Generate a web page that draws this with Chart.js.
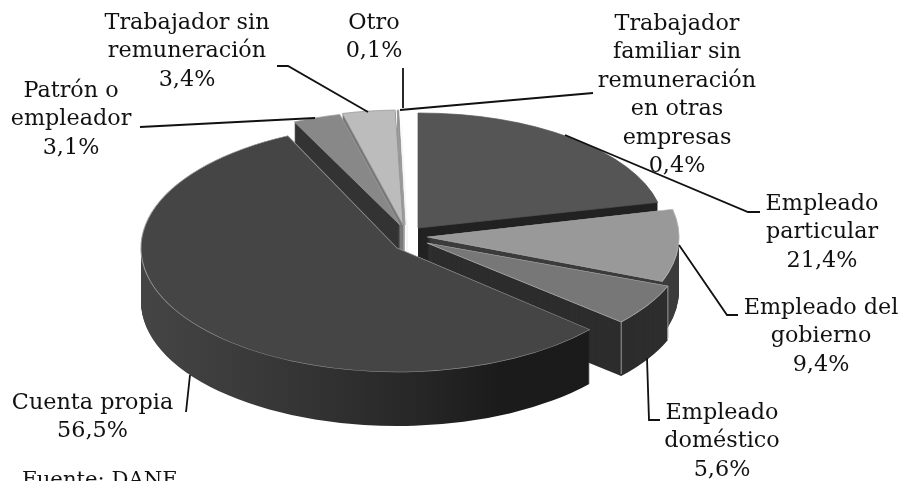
<!DOCTYPE html>
<html>
<head>
<meta charset="utf-8">
<style>
  html, body { margin: 0; background: #fff; overflow: hidden; }
</style>
<script src="https://cdn.jsdelivr.net/npm/chart.js@4"></script>
</head>
<body>
<canvas id="pie3d" width="901" height="481"></canvas>
<script>
const categories = ["Empleado particular", "Empleado del gobierno", "Empleado doméstico", "Cuenta propia", "Patrón o empleador", "Trabajador sin remuneración", "Otro", "Trabajador familiar sin remuneración en otras empresas"];
const shares = [21.4, 9.4, 5.6, 56.5, 3.1, 3.4, 0.1, 0.4];
const labelLines = [
  ["Empleado", "particular"],
  ["Empleado del", "gobierno"],
  ["Empleado", "doméstico"],
  ["Cuenta propia"],
  ["Patrón o", "empleador"],
  ["Trabajador sin", "remuneración"],
  ["Otro"],
  ["Trabajador", "familiar sin", "remuneración", "en otras", "empresas"]
];

const topColors = ["#555555", "#999999", "#777777", "#454545", "#888888", "#bcbcbc", "#8a8a8a", "#ffffff"];
const wallColors = ["#222222", "#3c3c3c", "#2d2d2d", "#3a3a3a", "#333333", "#777777", "#999999", "#f6f6f6"];
const edgeColors = ["#555555", "#b5b5b5", "#b5b5b5", "#9a9a9a", "#a0a0a0", "#999999", "#a0a0a0", "#ffffff"];
const drawOrder = [0, 7, 6, 5, 4, 1, 2, 3];

// each slice sits on its own ellipse (centre x, centre y, rx, ry), the fake 3d perspective
const faces = [
  [418, 228, 246, 115],
  [427, 237, 252, 124],
  [427, 243, 258, 120],
  [397, 248, 256, 124],
  [400, 225, 248, 114],
  [403, 225, 250, 115],
  [405, 225, 250, 115],
  [408, 225, 250, 115]
];
const depth = 54;

// label block centre x, first line y; leader polyline
const labelPos = [[822, 204], [821, 308], [722, 413], [92.5, 403], [71, 91], [187, 23], [374, 23], [677, 24]];
const leaders = [
  [[565, 135], [748, 212], [760, 212]],
  [[679, 245], [727, 315], [738, 315]],
  [[647, 358], [649, 420], [660, 420]],
  [[190, 375], [186, 412]],
  [[140, 127], [315, 118]],
  [[277, 66], [288, 66], [368, 112]],
  [[403, 68], [403, 108]],
  [[400, 110], [593, 93]]
];
const lineGap = 28.5;

const pie3d = {
  id: "pie3d",
  beforeDatasetDraw(chart) {
    const ctx = chart.ctx;
    const arcs = chart.getDatasetMeta(0).data;
    drawOrder.forEach((i) => {
      const arc = arcs[i];
      const [cx, cy, rx, ry] = faces[i];
      const place = (lift) => {
        ctx.setTransform(1, 0, 0, 1, 0, 0);
        ctx.translate(cx, cy + lift);
        ctx.scale(rx / arc.outerRadius, ry / arc.outerRadius);
        ctx.translate(-arc.x, -arc.y);
      };
      const face = arc.options;
      let wall = wallColors[i];
      if (i === 3) {
        wall = ctx.createLinearGradient(arc.x - arc.outerRadius, 0, arc.x + arc.outerRadius, 0);
        wall.addColorStop(0, "#454545");
        wall.addColorStop(0.25, "#383838");
        wall.addColorStop(0.55, "#262626");
        wall.addColorStop(0.7, "#1b1b1b");
        wall.addColorStop(1, "#1a1a1a");
      }
      ctx.save();
      arc.options = { ...face, backgroundColor: wall, borderWidth: 0 };
      for (let lift = depth; lift > 0; lift--) {
        place(lift);
        arc.draw(ctx);
      }
      arc.options = face;
      place(0);
      arc.draw(ctx);
      ctx.restore();
    });
    // pale vertical seams on the wall corners
    ctx.save();
    ctx.strokeStyle = "#9a9a9a";
    ctx.lineWidth = 1;
    [[2, arcs[2].startAngle], [2, arcs[2].endAngle]].forEach(([i, a]) => {
      const [cx, cy, rx, ry] = faces[i];
      const x = cx + rx * Math.cos(a);
      const y = cy + ry * Math.sin(a);
      ctx.beginPath();
      ctx.moveTo(x, y);
      ctx.lineTo(x, y + depth - 2);
      ctx.stroke();
    });
    ctx.restore();
    return false;
  },
  afterDraw(chart) {
    const ctx = chart.ctx;
    ctx.save();
    ctx.strokeStyle = "#111";
    ctx.lineWidth = 1.8;
    leaders.forEach((pts) => {
      ctx.beginPath();
      pts.forEach((p, k) => (k ? ctx.lineTo(p[0], p[1]) : ctx.moveTo(p[0], p[1])));
      ctx.stroke();
    });
    ctx.fillStyle = "#111";
    ctx.font = '22.3px "DejaVu Serif"';
    ctx.textAlign = "center";
    ctx.textBaseline = "middle";
    labelLines.forEach((lines, i) => {
      const all = lines.concat(shares[i].toFixed(1).replace(".", ",") + "%");
      all.forEach((t, k) => ctx.fillText(t, labelPos[i][0], labelPos[i][1] + k * lineGap));
    });
    ctx.font = '21.2px "DejaVu Serif"';
    ctx.textAlign = "left";
    ctx.fillText("Fuente: DANE", 22, 480);
    ctx.restore();
  }
};

new Chart(document.getElementById("pie3d"), {
  type: "pie",
  data: {
    labels: categories,
    datasets: [{
      data: shares,
      backgroundColor: topColors,
      borderColor: edgeColors,
      borderWidth: 0.8
    }]
  },
  options: {
    responsive: false,
    animation: false,
    radius: 200,
    plugins: { legend: { display: false }, tooltip: { enabled: false } }
  },
  plugins: [pie3d]
});
</script>
</body>
</html>
